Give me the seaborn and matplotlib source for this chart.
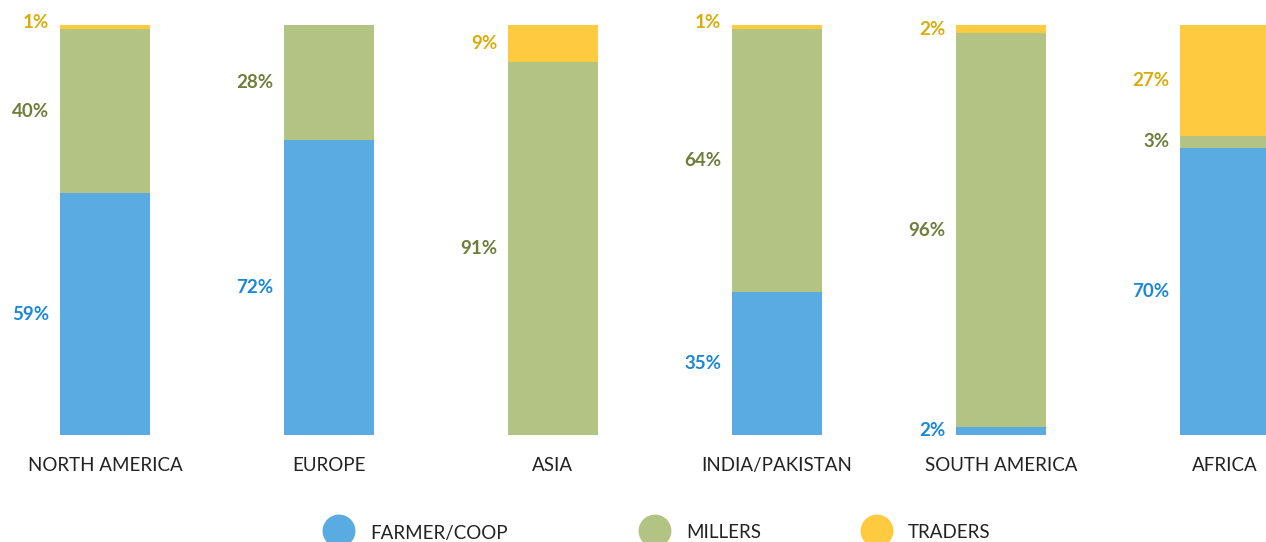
import matplotlib
matplotlib.use("Agg")
import matplotlib.pyplot as plt
import seaborn as sns
import numpy as np
import pandas as pd

# Data
regions = ["NORTH AMERICA", "EUROPE", "ASIA", "INDIA/PAKISTAN", "SOUTH AMERICA", "AFRICA"]
farmer = [59, 72, 0, 35, 2, 70]
millers = [40, 28, 91, 64, 96, 3]
traders = [1, 0, 9, 1, 2, 27]
series_names = ["FARMER/COOP", "MILLERS", "TRADERS"]

bar_colors = ["#5aabe2", "#b3c383", "#fecb40"]
text_colors = ["#1b87d8", "#6e7e3a", "#d8ad0b"]

sns.set_style("white")
plt.rcParams["font.family"] = ["Lato", "DejaVu Sans"]

df = pd.DataFrame({"region": regions, "farmer": farmer, "millers": millers, "traders": traders})
df["c1"] = df["farmer"]
df["c2"] = df["farmer"] + df["millers"]
df["c3"] = df["c2"] + df["traders"]

fig = plt.figure(figsize=(12.66, 5.42), dpi=100)
ax = fig.add_axes([0, 107 / 542, 1, 410 / 542])

# stacked bars: draw cumulative totals from top layer down
for col, color in zip(["c3", "c2", "c1"], bar_colors[::-1]):
    sns.barplot(data=df, x="region", y=col, color=color, width=0.406,
                saturation=1, ax=ax, order=regions, linewidth=0, edgecolor="none")

ax.set_xlim(-105 / 224, (1266 - 105) / 224)
ax.set_ylim(0, 100)
ax.set_xlabel("")
ax.set_ylabel("")
ax.set_yticks([])
sns.despine(ax=ax, left=True, bottom=True)
ax.tick_params(axis="x", length=0, pad=16, labelsize=13.5, labelcolor="#222222")

# value labels left of each segment
half_w = 0.406 / 2
for i in range(len(regions)):
    bottoms = [0, farmer[i], farmer[i] + millers[i]]
    vals = [farmer[i], millers[i], traders[i]]
    for k in range(3):
        v = vals[k]
        if v <= 0:
            continue
        y = bottoms[k] + v / 2
        if v <= 1:
            y += 1.2
        ax.text(i - half_w - 0.046, y, f"{v}%", ha="right", va="center",
                fontsize=13.5, fontweight="bold", color=text_colors[k])

# legend drawn in figure pixel space
lax = fig.add_axes([0, 0, 1, 1])
lax.set_xlim(0, 1266)
lax.set_ylim(542, 0)
lax.axis("off")
leg_x = [339, 655, 877]
for name, color, x in zip(series_names, bar_colors, leg_x):
    lax.scatter([x], [531], s=560, color=color, edgecolor="none", clip_on=False)
    lax.text(x + 31, 533, name, ha="left", va="center", fontsize=13.5, color="#222222")

fig.savefig("out.png", dpi=100)
